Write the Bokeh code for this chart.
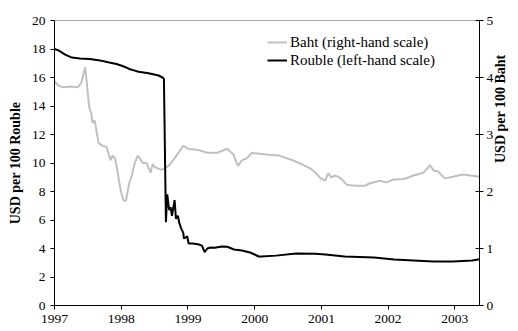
import math
from bokeh.plotting import figure
from bokeh.models import (Range1d, LinearAxis, FixedTicker, NumeralTickFormatter,
                          Legend, LegendItem)
from bokeh.embed import file_html
from bokeh.resources import INLINE

# ---- data (decimal years) ----
rouble_dates = [1997.00, 1997.06, 1997.16, 1997.26, 1997.38, 1997.53, 1997.68, 1997.82,
                1997.93, 1998.04, 1998.12, 1998.19, 1998.26, 1998.41, 1998.56, 1998.62,
                1998.64, 1998.67, 1998.69, 1998.71, 1998.72, 1998.74, 1998.76, 1998.80,
                1998.82, 1998.85, 1998.87, 1998.90, 1998.93, 1998.94, 1998.99, 1999.00,
                1999.01, 1999.07, 1999.15, 1999.21, 1999.25, 1999.29, 1999.34, 1999.40,
                1999.51, 1999.59, 1999.69, 1999.81, 1999.93, 2000.00, 2000.06, 2000.10,
                2000.32, 2000.62, 2000.91, 2001.06, 2001.35, 2001.79, 2002.09, 2002.38,
                2002.68, 2002.97, 2003.26, 2003.37]
rouble_usd = [18.0, 17.9, 17.6, 17.4, 17.33, 17.3, 17.2, 17.05,
              16.95, 16.77, 16.6, 16.5, 16.4, 16.3, 16.14, 16.0,
              15.9, 5.85, 7.8, 7.0, 6.7, 6.9, 6.3, 7.4,
              6.1, 6.3, 5.8, 5.4, 5.1, 4.7, 4.85, 4.6,
              4.35, 4.35, 4.3, 4.2, 3.75, 4.0, 4.07, 4.05,
              4.14, 4.12, 3.93, 3.86, 3.72, 3.58, 3.44, 3.44,
              3.5, 3.65, 3.63, 3.58, 3.44, 3.37, 3.23, 3.16,
              3.09, 3.09, 3.16, 3.25]

baht_dates = [1997.00, 1997.06, 1997.12, 1997.24, 1997.35, 1997.40, 1997.46, 1997.48,
              1997.52, 1997.55, 1997.57, 1997.60, 1997.62, 1997.66, 1997.72, 1997.78,
              1997.84, 1997.87, 1997.91, 1997.94, 1997.99, 1998.03, 1998.07, 1998.12,
              1998.16, 1998.19, 1998.22, 1998.25, 1998.28, 1998.32, 1998.38, 1998.44,
              1998.47, 1998.50, 1998.56, 1998.60, 1998.71, 1998.81, 1998.93, 1999.00,
              1999.15, 1999.29, 1999.44, 1999.59, 1999.68, 1999.75, 1999.81, 1999.88,
              1999.96, 2000.00, 2000.18, 2000.37, 2000.59, 2000.74, 2000.84, 2000.91,
              2000.99, 2001.06, 2001.10, 2001.15, 2001.21, 2001.28, 2001.38, 2001.50,
              2001.65, 2001.72, 2001.87, 2001.97, 2002.09, 2002.24, 2002.38, 2002.53,
              2002.63, 2002.68, 2002.75, 2002.85, 2002.97, 2003.12, 2003.24, 2003.37]
baht_usd = [3.93, 3.86, 3.83, 3.84, 3.83, 3.90, 4.18, 3.95,
            3.48, 3.38, 3.20, 3.25, 3.13, 2.85, 2.80, 2.78,
            2.55, 2.63, 2.58, 2.38, 2.03, 1.85, 1.83, 2.15,
            2.28, 2.45, 2.55, 2.63, 2.58, 2.50, 2.50, 2.33,
            2.48, 2.43, 2.40, 2.38, 2.45, 2.60, 2.80, 2.75,
            2.73, 2.68, 2.68, 2.75, 2.65, 2.45, 2.55, 2.58,
            2.68, 2.67, 2.65, 2.63, 2.54, 2.46, 2.40, 2.33,
            2.23, 2.19, 2.32, 2.25, 2.28, 2.24, 2.12, 2.10,
            2.10, 2.14, 2.19, 2.16, 2.21, 2.22, 2.28, 2.33,
            2.46, 2.37, 2.35, 2.23, 2.26, 2.30, 2.28, 2.26]

year_ticks = [1997, 1998, 1999, 2000, 2001, 2002, 2003]
left_ticks = [0, 2, 4, 6, 8, 10, 12, 14, 16, 18, 20]
right_ticks = [0, 1, 2, 3, 4, 5]

FONT = "Liberation Serif"

p = figure(width=518, height=331, output_backend="svg", toolbar_location=None,
           x_range=Range1d(1997, 2003.37), y_range=Range1d(0, 20),
           min_border_left=54, min_border_right=31, min_border_top=20,
           min_border_bottom=26)
p.extra_y_ranges = {"baht": Range1d(0, 5)}
p.xgrid.visible = False
p.ygrid.visible = False
p.outline_line_color = "#a6a6a6"
p.outline_line_width = 1
p.background_fill_color = "white"
p.border_fill_color = "white"

def style_axis(ax):
    ax.axis_line_color = "black"
    ax.axis_line_width = 1
    ax.major_tick_line_color = "black"
    ax.minor_tick_line_color = None
    ax.major_label_text_font = FONT
    ax.major_label_text_font_size = "13.5px"
    ax.major_label_text_color = "black"
    ax.axis_label_text_font = FONT
    ax.axis_label_text_font_style = "bold"
    ax.axis_label_text_font_size = "14px"
    ax.axis_label_text_color = "black"

xa = p.xaxis[0]
style_axis(xa)
xa.ticker = FixedTicker(ticks=year_ticks)
xa.formatter = NumeralTickFormatter(format="0")
xa.major_tick_in = 0
xa.major_tick_out = 4
xa.major_label_standoff = 5

ya = p.yaxis[0]
style_axis(ya)
ya.ticker = FixedTicker(ticks=left_ticks)
ya.major_tick_in = 0
ya.major_tick_out = 4
ya.axis_label = "USD per 100 Rouble"
ya.axis_label_standoff = 6

ra = LinearAxis(y_range_name="baht")
style_axis(ra)
ra.ticker = FixedTicker(ticks=right_ticks)
ra.major_tick_in = 4
ra.major_tick_out = 4
ra.major_label_standoff = 3
ra.axis_label = "USD per 100 Baht"
ra.axis_label_standoff = 4
ra.axis_label_orientation = math.pi / 2
ra.axis_label_text_line_height = 0.5
p.add_layout(ra, "right")

r_baht = p.line(baht_dates, baht_usd, y_range_name="baht",
                line_color="#c0c0c0", line_width=2)
r_rouble = p.line(rouble_dates, rouble_usd, line_color="black", line_width=2)

legend = Legend(items=[LegendItem(label="Baht (right-hand scale)", renderers=[r_baht]),
                       LegendItem(label="Rouble (left-hand scale)", renderers=[r_rouble])],
                location=(213, 236), padding=0, margin=0, spacing=0,
                glyph_width=20, glyph_height=18, label_height=18, label_standoff=3,
                label_text_font=FONT, label_text_font_size="15px",
                label_text_color="black",
                border_line_color=None, background_fill_alpha=0)
p.add_layout(legend, "center")

open("out.html", "w").write(file_html(p, INLINE))
